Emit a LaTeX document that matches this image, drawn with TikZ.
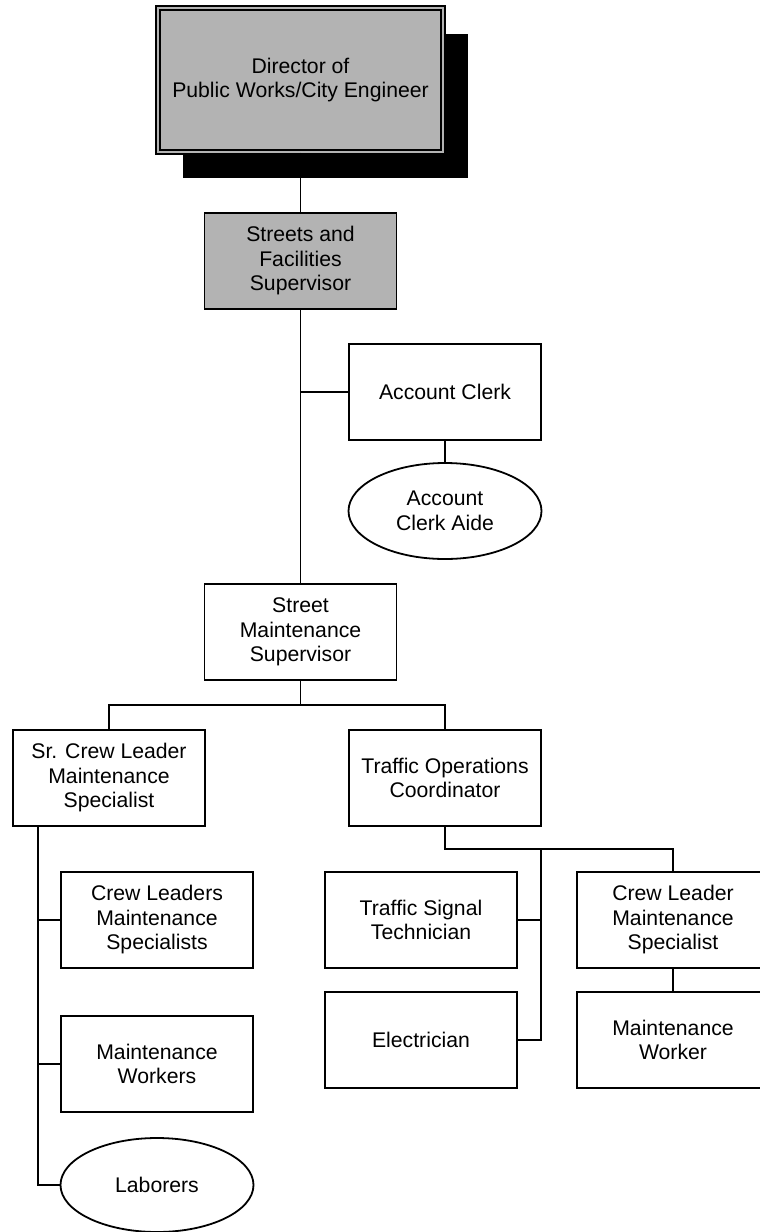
\documentclass[tikz,border=0pt]{standalone}
\usepackage{fontspec}
\setmainfont{Liberation Sans}
\usepackage{tikz}
\usetikzlibrary{shapes.geometric,shadows}
\definecolor{boxgray}{RGB}{179,179,179}

\begin{document}
\begin{tikzpicture}[
		x=1pt, y=-1pt,
		line width=1.8pt,
		every node/.style={align=center, inner sep=0pt, font=\fontsize{21.2}{24.5}\selectfont},
		box/.style={draw, rectangle, minimum width=192pt, minimum height=96pt},
		oval/.style={draw, ellipse, minimum width=193pt, minimum height=96pt},
		shaded/.style={box, fill=boxgray},
		chief/.style={draw, double=boxgray, double distance=2.6pt, line width=1.3pt, fill=boxgray,
			minimum width=285pt, minimum height=144pt,
			drop shadow={shadow xshift=25pt, shadow yshift=-26pt, fill=black, opacity=1}}
	]
		\useasboundingbox (0,0) rectangle (760,1232);
		% top of the chart
		\node[chief] (dir) at (300.5,80) {Director of\\Public Works/City Engineer};
		\node[shaded] (streets) at (300.5,261) {Streets and\\Facilities\\Supervisor};
		\node[box] (acct) at (445,392) {Account Clerk};
		\node[oval] (aide) at (445,511) {Account\\Clerk Aide};
		\node[box] (smsup) at (300.5,632) {Street\\Maintenance\\Supervisor};
		% second level
		\node[box] (srcrew) at (109,778) {Sr. Crew Leader\\Maintenance\\Specialist};
		\node[box] (traffic) at (445,778) {Traffic Operations\\Coordinator};
		% left branch
		\node[box] (crews) at (157,920) {Crew Leaders\\Maintenance\\Specialists};
		\node[box] (mworkers) at (157,1064) {Maintenance\\Workers};
		\node[oval, minimum height=94pt] (laborers) at (157,1185) {Laborers};
		% right branch
		\node[box] (signal) at (421,920) {Traffic Signal\\Technician};
		\node[box] (elec) at (421,1040) {Electrician};
		\node[box] (crewldr) at (673,920) {Crew Leader\\Maintenance\\Specialist};
		\node[box] (mworker) at (673,1040) {Maintenance\\Worker};

		\coordinate (j1) at (300.5,705);
		\coordinate (lspine) at (38,826);
		\coordinate (j2) at (541,849);

		\draw (dir.south) -- (streets.north);
		\draw (streets.south) -- (smsup.north);
		\draw (acct.west) -- (acct.west -| streets.south);
		\draw (acct.south) -- (aide.north);
		\draw (smsup.south) -- (j1);
		\draw (srcrew.north) |- (j1) -| (traffic.north);
		\draw (lspine) |- (laborers.west);
		\draw (lspine |- crews.west) -- (crews.west);
		\draw (lspine |- mworkers.west) -- (mworkers.west);
		\draw (traffic.south) |- (j2) -| (crewldr.north);
		\draw (j2) |- (elec.east);
		\draw (signal.east) -- (signal.east -| j2);
		\draw (crewldr.south) -- (mworker.north);
	\end{tikzpicture}
\end{document}
